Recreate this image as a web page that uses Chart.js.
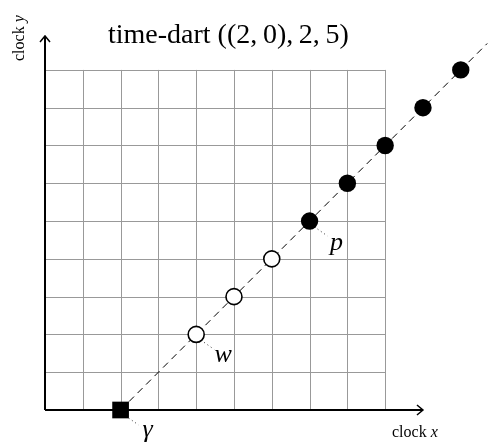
<!DOCTYPE html>
<html>
<head>
<meta charset="utf-8">
<script src="https://cdn.jsdelivr.net/npm/chart.js@4"></script>
<style>
  html, body { margin: 0; padding: 0; background: #fff; }
  #wrap { width: 491px; height: 448px; }
</style>
</head>
<body>
<div id="wrap"><canvas id="dart" width="491" height="448"></canvas></div>
<script>
// Data (clock x / clock y)
const gridTicks = [0, 1, 2, 3, 4, 5, 6, 7, 8, 9];
const startX = [2];
const startY = [0];
const openX = [4, 5, 6];
const openY = [2, 3, 4];
const filledX = [7, 8, 9, 10, 11];
const filledY = [5, 6, 7, 8, 9];
const lineX = [2, 11.7];
const lineY = [0, 9.7];
const axisEnd = [10, 9.9];

function pts(xs, ys) {
    return xs.map((x, i) => ({ x: x, y: ys[i] }));
}

const serif = '"Liberation Serif", "DejaVu Serif", serif';

// grid, axes with arrows, title, labels and dotted leaders
const decor = {
    id: 'decor',
    beforeDatasetsDraw(chart) {
        const ctx = chart.ctx;
        const sx = chart.scales.x, sy = chart.scales.y;
        const lo = gridTicks[0], hi = gridTicks[gridTicks.length - 1];
        const x0 = sx.getPixelForValue(0), y0 = sy.getPixelForValue(0);
        ctx.save();

        // grid
        ctx.strokeStyle = '#999';
        ctx.lineWidth = 1;
        ctx.beginPath();
        gridTicks.forEach(t => {
            const gx = Math.round(sx.getPixelForValue(t)) + 0.5;
            const gy = Math.round(sy.getPixelForValue(t)) + 0.5;
            ctx.moveTo(gx, sy.getPixelForValue(lo));
            ctx.lineTo(gx, sy.getPixelForValue(hi));
            ctx.moveTo(sx.getPixelForValue(lo), gy);
            ctx.lineTo(sx.getPixelForValue(hi), gy);
        });
        ctx.stroke();

        // axes
        const xe = sx.getPixelForValue(axisEnd[0]);
        const ye = sy.getPixelForValue(axisEnd[1]);
        ctx.strokeStyle = '#000';
        ctx.lineWidth = 2;
        ctx.beginPath();
        ctx.moveTo(x0, y0); ctx.lineTo(xe, y0);
        ctx.moveTo(x0, y0); ctx.lineTo(x0, ye);
        ctx.stroke();
        ctx.lineWidth = 1.5;
        ctx.beginPath();
        ctx.moveTo(xe - 6, y0 - 5); ctx.lineTo(xe, y0); ctx.lineTo(xe - 6, y0 + 5);
        ctx.moveTo(x0 - 5, ye + 6); ctx.lineTo(x0, ye); ctx.lineTo(x0 + 5, ye + 6);
        ctx.stroke();
        ctx.restore();
    },
    afterDraw(chart) {
        const ctx = chart.ctx;
        const sx = chart.scales.x, sy = chart.scales.y;
        ctx.save();
        ctx.fillStyle = '#000';
        ctx.textBaseline = 'alphabetic';

        // title
        ctx.font = '28px ' + serif;
        ctx.textAlign = 'left';
        ctx.fillText('time-dart ((2,\u20090),\u20092,\u20095)', 108, 43);

        // axis names
        ctx.textBaseline = 'middle';
        ctx.font = '16px ' + serif;
        ctx.fillText('clock ', 392, 433);
        let w = ctx.measureText('clock ').width;
        ctx.font = 'italic 16px ' + serif;
        ctx.fillText('x', 392 + w, 433);

        ctx.save();
        ctx.translate(20, 61);
        ctx.rotate(-Math.PI / 2);
        ctx.font = '16px ' + serif;
        ctx.fillText('clock ', 0, 0);
        w = ctx.measureText('clock ').width;
        ctx.font = 'italic 16px ' + serif;
        ctx.fillText('y', w, 0);
        ctx.restore();

        // point names with dotted leaders
        const names = [
            { t: 'w', x: openX[0], y: openY[0], dy: 21 },
            { t: 'p', x: filledX[0], y: filledY[0], dy: 22 },
            { t: '\u03b3', x: startX[0], y: startY[0], dy: 20 }
        ];
        names.forEach(n => {
            const px = sx.getPixelForValue(n.x), py = sy.getPixelForValue(n.y);
            ctx.strokeStyle = '#333';
            ctx.lineWidth = 1;
            ctx.setLineDash([1, 3]);
            ctx.beginPath();
            ctx.moveTo(px + 8, py + 8);
            ctx.lineTo(px + 18, py + 15);
            ctx.stroke();
            ctx.setLineDash([]);
            ctx.font = 'italic 26px ' + serif;
            ctx.textAlign = 'center';
            ctx.fillText(n.t, px + 27, py + n.dy);
        });
        ctx.restore();
    }
};

new Chart(document.getElementById('dart'), {
    type: 'scatter',
    data: {
        datasets: [
            {
                type: 'line',
                data: pts(lineX, lineY),
                borderColor: '#000',
                borderWidth: 1,
                borderDash: [7, 5],
                pointRadius: 0,
                fill: false,
                clip: false,
                order: 3
            },
            {
                data: pts(openX, openY),
                pointStyle: 'circle',
                pointRadius: 8,
                backgroundColor: '#fff',
                borderColor: '#000',
                borderWidth: 1.6,
                clip: false,
                order: 1
            },
            {
                data: pts(filledX, filledY),
                pointStyle: 'circle',
                pointRadius: 8.7,
                backgroundColor: '#000',
                borderColor: '#000',
                borderWidth: 0,
                clip: false,
                order: 1
            },
            {
                data: pts(startX, startY),
                pointStyle: 'rect',
                pointRadius: 11.8,
                backgroundColor: '#000',
                borderColor: '#000',
                borderWidth: 0,
                clip: false,
                order: 1
            }
        ]
    },
    options: {
        responsive: false,
        animation: false,
        layout: { autoPadding: false, padding: { left: 45, right: 0, top: 0, bottom: 38 } },
        plugins: {
            legend: { display: false },
            tooltip: { enabled: false }
        },
        scales: {
            x: { type: 'linear', display: false, min: 0, max: 11.8 },
            y: { type: 'linear', display: false, min: 0, max: 10.85 }
        }
    },
    plugins: [decor]
});
</script>
</body>
</html>
